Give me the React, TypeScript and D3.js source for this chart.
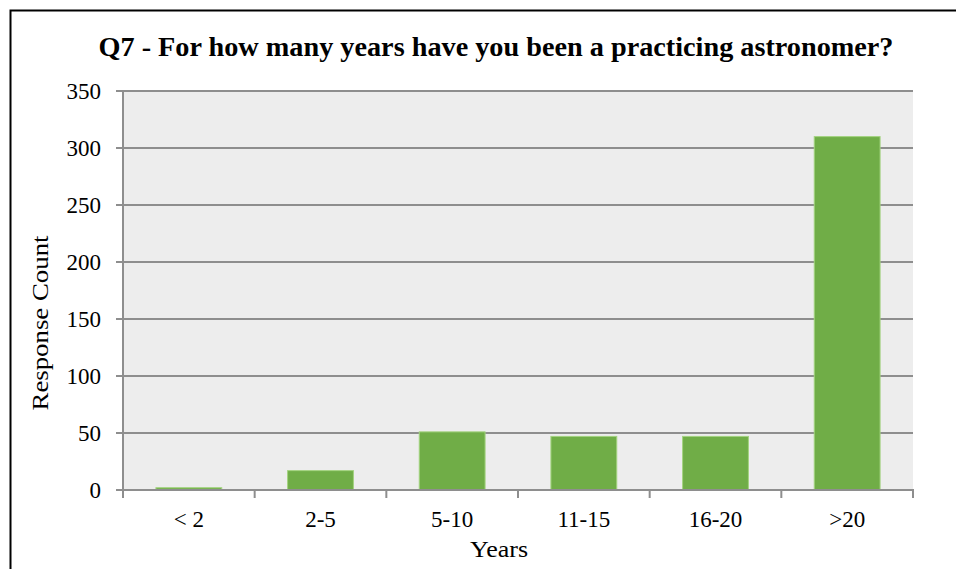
import React from "react";
import * as d3 from "d3";

const categories = ["< 2", "2-5", "5-10", "11-15", "16-20", ">20"];
const counts = [2, 17, 51, 47, 47, 310];
const yTicks = [0, 50, 100, 150, 200, 250, 300, 350];

const W = 956;
const H = 569;
const M = { left: 123, right: 913, top: 91, bottom: 490 };
const FONT = "'Liberation Serif', 'Times New Roman', serif";
const GRID = "#8e8e8e";

export default function App() {
  const x = d3
    .scaleBand<string>()
    .domain(categories)
    .range([M.left, M.right])
    .paddingInner(0.5)
    .paddingOuter(0.25);
  const y = d3.scaleLinear().domain([0, 350]).range([M.bottom, M.top]);
  const boundaries = d3
    .range(categories.length + 1)
    .map((i) => M.left + (i * (M.right - M.left)) / categories.length);

  return (
    <svg
      width={W}
      height={H}
      style={{ position: "absolute", left: 0, top: 0, background: "#fff" }}
      fontFamily={FONT}
    >
      <rect x={10.5} y={10.5} width={1000} height={1000} fill="none" stroke="#000" strokeWidth={2} />

      <text
        x={496}
        y={56}
        textAnchor="middle"
        fontWeight="bold"
        fontSize={28}
        textLength={795}
        lengthAdjust="spacingAndGlyphs"
        fill="#000"
      >
        Q7 - For how many years have you been a practicing astronomer?
      </text>

      <rect x={M.left} y={M.top} width={M.right - M.left} height={M.bottom - M.top} fill="#ededed" />

      {yTicks.map((t) => (
        <g key={t}>
          <line x1={M.left - 7} x2={M.right} y1={y(t)} y2={y(t)} stroke={GRID} strokeWidth={2} />
          <text x={101} y={y(t) + 8} textAnchor="end" fontSize={23} fill="#000">
            {t}
          </text>
        </g>
      ))}

      <line x1={M.left} x2={M.left} y1={M.top} y2={M.bottom} stroke={GRID} strokeWidth={2} />

      {categories.map((c, i) => (
        <rect
          key={c}
          x={x(c)!}
          y={y(counts[i])}
          width={x.bandwidth()}
          height={y(0) - y(counts[i])}
          fill="#70ad47"
          stroke="#a3d37f"
          strokeWidth={1}
        />
      ))}

      <line x1={M.left} x2={M.right + 1} y1={M.bottom} y2={M.bottom} stroke={GRID} strokeWidth={2} />
      {boundaries.map((bx, i) => (
        <line key={i} x1={bx} x2={bx} y1={M.bottom} y2={M.bottom + 8} stroke={GRID} strokeWidth={2} />
      ))}

      {categories.map((c) => (
        <text key={c} x={x(c)! + x.bandwidth() / 2} y={527} textAnchor="middle" fontSize={23} fill="#000">
          {c}
        </text>
      ))}

      <text
        x={499}
        y={557}
        textAnchor="middle"
        fontSize={24}
        textLength={58}
        lengthAdjust="spacingAndGlyphs"
        fill="#000"
      >
        Years
      </text>
      <text
        transform={`translate(48, 323) rotate(-90)`}
        textAnchor="middle"
        fontSize={23}
        textLength={175}
        lengthAdjust="spacingAndGlyphs"
        fill="#000"
      >
        Response Count
      </text>
    </svg>
  );
}
